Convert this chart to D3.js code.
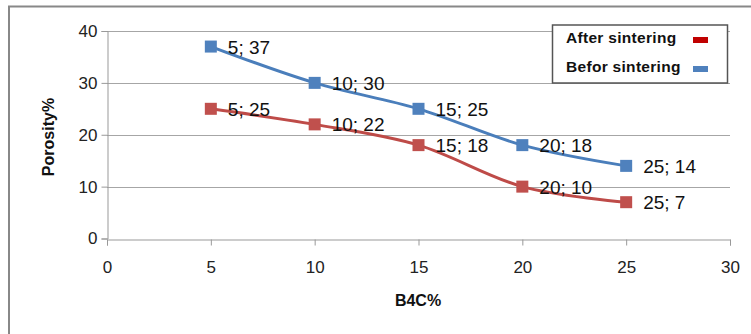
<!DOCTYPE html>
<html><head><meta charset="utf-8">
<script src="https://cdn.jsdelivr.net/npm/d3@7"></script>
<style>body{margin:0;background:#fff}svg{display:block}</style>
</head><body>
<script>
const xValues = [5, 10, 15, 20, 25];
const beforeSintering = [37, 30, 25, 18, 14];
const afterSintering = [25, 22, 18, 10, 7];
const xTicks = [0, 5, 10, 15, 20, 25, 30];
const yTicks = [0, 10, 20, 30, 40];
const seriesNames = ["After sintering", "Befor sintering"];

const W = 751, H = 334;
const svg = d3.select("body").append("svg").attr("width", W).attr("height", H);
const font = "'Liberation Sans', Arial, sans-serif";

// frame
svg.append("rect").attr("x", 9).attr("y", 6.5).attr("width", 760).attr("height", 340)
  .attr("fill", "none").attr("stroke", "#888").attr("stroke-width", 2);

const x = d3.scaleLinear().domain([0, 30]).range([107, 730]);
const y = d3.scaleLinear().domain([0, 40]).range([238.5, 31]);

// gridlines
svg.append("g").selectAll("line").data(yTicks.filter(d => d > 0)).join("line")
  .attr("x1", x(0)).attr("x2", x(30)).attr("y1", d => Math.round(y(d)) + 0.5).attr("y2", d => Math.round(y(d)) + 0.5)
  .attr("stroke", "#a6a6a6").attr("stroke-width", 1);

// axes
const xAxis = svg.append("g").attr("transform", `translate(0,${Math.round(y(0)) + 0.5})`)
  .call(d3.axisBottom(x).tickValues(xTicks).tickSize(6).tickPadding(15));
const yAxis = svg.append("g").attr("transform", `translate(${Math.round(x(0)) + 0.5},0)`)
  .call(d3.axisLeft(y).tickValues(yTicks).tickSize(6).tickPadding(4));
[xAxis, yAxis].forEach(a => {
  a.select(".domain").attr("stroke", "#999");
  a.selectAll(".tick line").attr("stroke", "#999");
  a.selectAll("text").attr("fill", "#222").style("font-family", font).style("font-size", "17px");
});

// axis titles
svg.append("text").attr("x", 418).attr("y", 306).attr("text-anchor", "middle")
  .style("font-family", font).style("font-weight", "bold").style("font-size", "16px").attr("fill", "#111").text("B4C%");
svg.append("text").attr("transform", "translate(54,137) rotate(-90)").attr("text-anchor", "middle")
  .style("font-family", font).style("font-weight", "bold").style("font-size", "16px").attr("fill", "#111").text("Porosity%");

const series = [
  {name: seriesNames[1], values: beforeSintering, color: "#4a7ebb", mark: "#4f81bd"},
  {name: seriesNames[0], values: afterSintering, color: "#be4b48", mark: "#c0504d"}
];
const line = d3.line().x(d => x(d[0])).y(d => y(d[1])).curve(d3.curveCatmullRom.alpha(0));

series.forEach(s => {
  const pts = xValues.map((v, i) => [v, s.values[i]]);
  svg.append("path").attr("d", line(pts)).attr("fill", "none").attr("stroke", s.color).attr("stroke-width", 3);
  svg.append("g").selectAll("rect").data(pts).join("rect")
    .attr("x", d => x(d[0]) - 6).attr("y", d => y(d[1]) - 6).attr("width", 12).attr("height", 12)
    .attr("fill", s.mark);
  svg.append("g").selectAll("text").data(pts).join("text")
    .attr("x", d => x(d[0]) + 17).attr("y", d => y(d[1]) + 7)
    .style("font-family", font).style("font-size", "19px").attr("fill", "#111")
    .text(d => `${d[0]}; ${d[1]}`);
});

// legend
const lg = svg.append("g");
lg.append("rect").attr("x", 552.5).attr("y", 25).attr("width", 175).attr("height", 58)
  .attr("fill", "#fff").attr("stroke", "#555").attr("stroke-width", 1.5);
const legendItems = [
  {name: seriesNames[0], color: "#c00000", yy: 38},
  {name: seriesNames[1], color: "#4f81bd", yy: 67}
];
legendItems.forEach(it => {
  lg.append("text").attr("x", 566).attr("y", it.yy + 5)
    .style("font-family", font).style("font-weight", "bold").style("font-size", "15.5px")
    .style("letter-spacing", "0.3px").attr("fill", "#111").text(it.name);
  lg.append("rect").attr("x", 693).attr("y", it.yy - 1).attr("width", 15).attr("height", 6).attr("fill", it.color);
});
</script>
</body></html>
